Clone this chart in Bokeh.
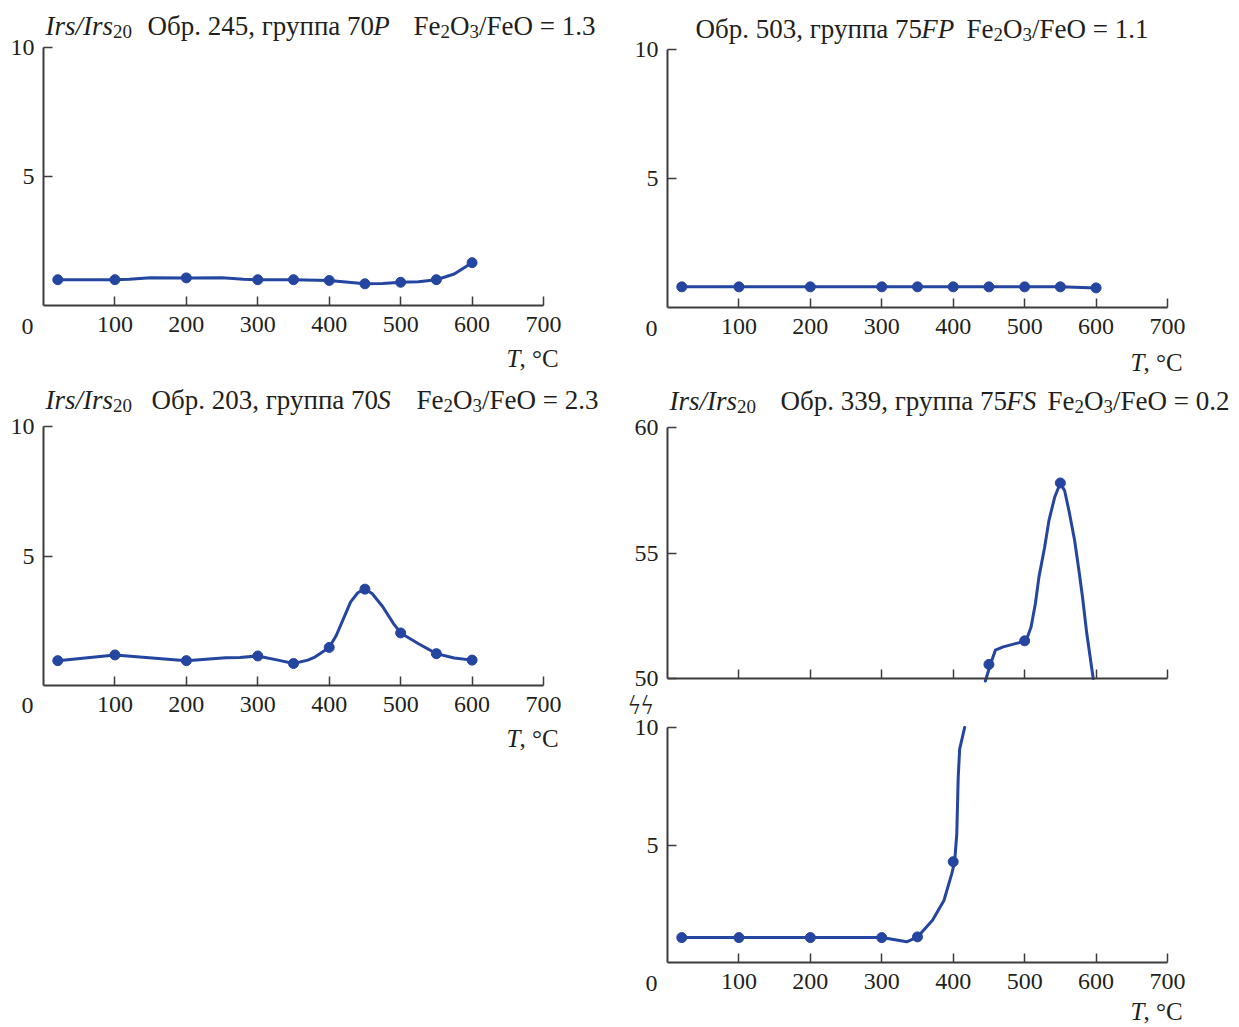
from bokeh.plotting import figure
from bokeh.models import Range1d, FixedTicker, Label, LinearAxis
from bokeh.layouts import row, column
from bokeh.embed import file_html
from bokeh.resources import INLINE

# ---------------- data ----------------
x_ticks = [100, 200, 300, 400, 500, 600, 700]

# Sample 245, group 70P
t_245 = [20, 100, 200, 300, 350, 400, 450, 500, 550, 600]
irs_245 = [1.0, 1.0, 1.07, 1.0, 1.0, 0.97, 0.84, 0.9, 1.0, 1.66]
curve_245_t = [20, 100, 120, 150, 200, 250, 280, 300, 350, 400, 450, 475, 500, 525, 550, 575, 600]
curve_245_v = [1.0, 1.0, 1.02, 1.08, 1.07, 1.08, 1.02, 1.0, 1.0, 0.97, 0.84, 0.85, 0.9, 0.92, 1.0, 1.22, 1.66]

# Sample 503, group 75FP
t_503 = [20, 100, 200, 300, 350, 400, 450, 500, 550, 600]
irs_503 = [0.8, 0.8, 0.8, 0.8, 0.8, 0.8, 0.8, 0.8, 0.8, 0.76]

# Sample 203, group 70S
t_203 = [20, 100, 200, 300, 350, 400, 450, 500, 550, 600]
irs_203 = [0.96, 1.18, 0.96, 1.14, 0.85, 1.47, 3.72, 2.03, 1.23, 0.98]
curve_203_t = [20, 100, 200, 255, 275, 300, 330, 350, 370, 380, 400, 410, 420, 430, 440,
               450, 460, 475, 490, 500, 525, 550, 575, 600]
curve_203_v = [0.96, 1.18, 0.96, 1.07, 1.08, 1.14, 0.97, 0.85, 0.98, 1.1, 1.47, 1.94, 2.58, 3.23, 3.58,
               3.72, 3.55, 3.04, 2.39, 2.03, 1.61, 1.23, 1.06, 0.98]

# Sample 339, group 75FS (upper part 50-60)
t_339_hi = [450, 500, 550]
irs_339_hi = [50.56, 51.5, 57.79]
curve_339_hi_t = [445, 452, 459, 470, 487, 502, 509, 515, 520, 528, 534, 542, 550, 556, 562,
                  570, 576, 581, 587, 596]
curve_339_hi_v = [49.9, 50.56, 51.13, 51.26, 51.39, 51.5, 52.05, 52.98, 54.04, 55.23, 56.29, 57.22,
                  57.79, 57.48, 56.69, 55.5, 54.3, 53.25, 51.79, 50.0]

# Sample 339, group 75FS (lower part 0-10)
t_339_lo = [20, 100, 200, 300, 350, 400]
irs_339_lo = [1.06, 1.06, 1.06, 1.06, 1.09, 4.29]
curve_339_lo_t = [20, 100, 200, 300, 335, 350, 371, 387, 398, 402, 405, 407, 409, 416]
curve_339_lo_v = [1.06, 1.06, 1.06, 1.06, 0.88, 1.09, 1.8, 2.64, 3.78, 4.29, 5.47, 7.88, 9.08, 10.0]

# ---------------- style ----------------
FONT = "Liberation Serif"
LINE = "#2445a0"
AX = "#3c3c3c"
TXT = "#231f20"
TICK_FS = "24px"
TITLE_FS = 27
SUB_FS = 19

# approximate Times advance widths (em) for chaining text runs
W_N = {**{d: 0.5 for d in "0123456789"}, " ": 0.25, ".": 0.25, ",": 0.25, "/": 0.278, "=": 0.564,
       "F": 0.556, "e": 0.444, "O": 0.722, "C": 0.667, "°": 0.4, "О": 0.722, "б": 0.5, "р": 0.5,
       "г": 0.41, "у": 0.5, "п": 0.5, "а": 0.444}
W_I = {"I": 0.333, "r": 0.389, "s": 0.389, "/": 0.278, "P": 0.611, "S": 0.5, "F": 0.611, "T": 0.556}


def text_width(s, kind):
    if kind == "i":
        return sum(W_I.get(c, 0.5) for c in s) * TITLE_FS
    if kind == "s":
        return sum(W_N.get(c, 0.5) for c in s) * SUB_FS
    return sum(W_N.get(c, 0.5) for c in s) * TITLE_FS


def style_axis(a, ticks, standoff, labels=True):
    a.ticker = FixedTicker(ticks=ticks)
    a.major_tick_in = 9
    a.major_tick_out = 0
    a.minor_tick_line_color = None
    a.axis_line_width = 2
    a.axis_line_color = AX
    a.major_tick_line_color = AX
    a.major_tick_line_width = 1.5
    a.major_label_text_font = FONT
    a.major_label_text_font_size = TICK_FS
    a.major_label_text_color = TXT
    a.major_label_standoff = standoff
    if not labels:
        a.major_label_overrides = {t: "" for t in ticks}


def y_range_for(oy, h, ypx_top, ypx_bot, y0, y1):
    k = (ypx_bot - ypx_top) / float(y1 - y0)
    return Range1d(y0 - (oy + h - ypx_bot) / k, y1 + (ypx_top - oy) / k)


def make_fig(ox, oy, w, h, xpx0, ypx_top, ypx_bot, y0, y1, yticks):
    """Figure whose frame fills the whole canvas; axes drawn at fixed data locations."""
    sx = 500.0 / 700.0
    xs = -(xpx0 - ox) / sx
    p = figure(width=w, height=h, x_range=Range1d(xs, xs + w / sx),
               y_range=y_range_for(oy, h, ypx_top, ypx_bot, y0, y1),
               output_backend="svg", toolbar_location=None, tools="")
    p.min_border = 0
    p.min_border_left = 0
    p.min_border_right = 0
    p.min_border_top = 0
    p.min_border_bottom = 0
    p.outline_line_color = None
    p.grid.visible = False
    p.background_fill_color = "white"
    p.border_fill_color = "white"
    xa = p.xaxis[0]
    xa.fixed_location = y0
    xa.bounds = (0, 700)
    style_axis(xa, x_ticks, 11)
    ya = p.yaxis[0]
    ya.fixed_location = 0
    ya.bounds = (y0, y1)
    style_axis(ya, yticks, 9)
    return p, (xpx0, ypx_top, y1)


def put(p, geo, ax, ay, text, italic=False, size=TITLE_FS, align="left"):
    FL, FT, y1 = geo
    p.add_layout(Label(x=0, y=y1, x_offset=ax - FL, y_offset=FT - ay, text=text,
                       text_font=FONT, text_font_size=f"{size}px",
                       text_font_style="italic" if italic else "normal",
                       text_align=align, text_baseline="alphabetic", text_color=TXT))


def title_runs(p, geo, yc, runs):
    x = None
    for text, kind, anchor in runs:
        if anchor is not None:
            x = anchor
        if kind == "s":
            put(p, geo, x, yc + 6, text, size=SUB_FS)
        else:
            put(p, geo, x + (1 if kind == "i" and anchor is None else 0), yc, text,
                italic=(kind == "i"))
        x += text_width(text, kind)


def axis_title(p, geo, ax, ay):
    put(p, geo, ax, ay, "T", italic=True, size=25)
    put(p, geo, ax + 13, ay, ", °C", size=25)


def corner_zero(p, geo, ax, ay):
    put(p, geo, ax, ay, "0", size=24, align="center")


def draw(p, ct, cv, pt, pv, **kw):
    p.line(ct, cv, line_color=LINE, line_width=3, line_join="round", line_cap="round", **kw)
    p.scatter(pt, pv, size=10, fill_color=LINE, line_color=LINE, **kw)


LW = 618          # width of the left column
RW = 1239 - LW    # width of the right column
R1 = 382          # height of the first row
R2 = 1027 - R1

# ---------------- panel 1 ----------------
p1, g1 = make_fig(0, 0, LW, R1, 43, 47, 305, 0, 10, [5, 10])
draw(p1, curve_245_t, curve_245_v, t_245, irs_245)
title_runs(p1, g1, 25, [("Irs/Irs", "i", 45), ("20", "s", None), ("Обр. 245, группа 70", "n", 147),
                        ("P", "i", None), ("Fe", "n", 413), ("2", "s", None), ("O", "n", None),
                        ("3", "s", None), ("/FeO = 1.3", "n", None)])
corner_zero(p1, g1, 27, 326)
axis_title(p1, g1, 506, 358)

# ---------------- panel 2 ----------------
p2, g2 = make_fig(LW, 0, RW, R1, 667, 49, 307, 0, 10, [5, 10])
draw(p2, t_503, irs_503, t_503, irs_503)
title_runs(p2, g2, 28, [("Обр. 503, группа 75", "n", 695), ("FP", "i", None), ("Fe", "n", 966),
                        ("2", "s", None), ("O", "n", None), ("3", "s", None), ("/FeO = 1.1", "n", None)])
corner_zero(p2, g2, 651, 328)
axis_title(p2, g2, 1130, 362)

# ---------------- panel 3 ----------------
p3, g3 = make_fig(0, R1, LW, R2, 43, 426, 685, 0, 10, [5, 10])
draw(p3, curve_203_t, curve_203_v, t_203, irs_203)
title_runs(p3, g3, 399, [("Irs/Irs", "i", 45), ("20", "s", None), ("Обр. 203, группа 70", "n", 151),
                         ("S", "i", None), ("Fe", "n", 416), ("2", "s", None), ("O", "n", None),
                         ("3", "s", None), ("/FeO = 2.3", "n", None)])
corner_zero(p3, g3, 27, 705)
axis_title(p3, g3, 506, 738)

# ---------------- panel 4: broken axis (0-10 below, 50-60 above) ----------------
p4, g4 = make_fig(LW, R1, RW, R2, 667, 727, 962, 0, 10, [5, 10])
p4.extra_y_ranges = {"hi": y_range_for(R1, R2, 427, 678, 50, 60)}
ya_hi = LinearAxis(y_range_name="hi")
ya_hi.fixed_location = 0
ya_hi.bounds = (50, 60)
style_axis(ya_hi, [50, 55, 60], 9)
p4.add_layout(ya_hi, "left")
xa_hi = LinearAxis(y_range_name="hi")
xa_hi.fixed_location = 50
xa_hi.bounds = (0, 700)
style_axis(xa_hi, x_ticks, 11, labels=False)
p4.add_layout(xa_hi, "below")

draw(p4, curve_339_lo_t, curve_339_lo_v, t_339_lo, irs_339_lo)
draw(p4, curve_339_hi_t, curve_339_hi_v, t_339_hi, irs_339_hi, y_range_name="hi")
title_runs(p4, g4, 400, [("Irs/Irs", "i", 669), ("20", "s", None), ("Обр. 339, группа 75", "n", 780),
                         ("FS", "i", None), ("Fe", "n", 1047), ("2", "s", None), ("O", "n", None),
                         ("3", "s", None), ("/FeO = 0.2", "n", None)])
put(p4, g4, 640, 704, "ϟϟ", italic=True, size=28, align="center")
corner_zero(p4, g4, 651, 983)
axis_title(p4, g4, 1130, 1011)

layout = column(row(p1, p2), row(p3, p4))

with open("out.html", "w") as f:
    f.write(file_html(layout, INLINE, title="Irs/Irs20"))
